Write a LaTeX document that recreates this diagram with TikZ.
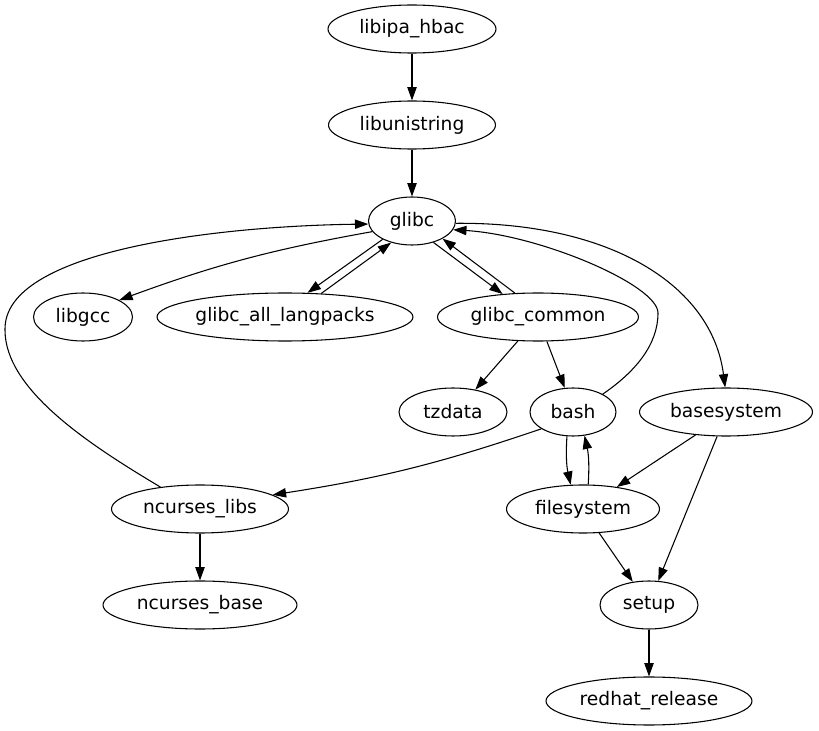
\documentclass[tikz,border=0pt]{standalone}
\usepackage{fontspec}
\setmainfont{DejaVu Sans}
\usetikzlibrary{shapes.geometric,arrows.meta}
\begin{document}
\begin{tikzpicture}[x=0.75pt,y=-0.75pt,
  gnode/.style={draw, ellipse, inner sep=0pt, minimum height=36pt, line width=0.8pt,
    font=\fontsize{14pt}{17pt}\selectfont},
  edge/.style={line width=0.8pt, -{Triangle[length=10pt,width=7pt]}}]
\useasboundingbox (0,0) rectangle (819,731);
\node[gnode, minimum width=126pt] (hbac) at (412,29) {\makebox[0pt]{libipa\_hbac}};
\node[gnode, minimum width=125.25pt] (libu) at (412,125) {\makebox[0pt]{libunistring}};
\node[gnode, minimum width=65.25pt] (glibc) at (412,221) {\makebox[0pt]{glibc}};
\node[gnode, minimum width=74.25pt] (libgcc) at (83,317) {\makebox[0pt]{libgcc}};
\node[gnode, minimum width=192pt] (gal) at (285,317) {\makebox[0pt]{glibc\_all\_langpacks}};
\node[gnode, minimum width=150.75pt] (gc) at (538,317) {\makebox[0pt]{glibc\_common}};
\node[gnode, minimum width=81pt] (tz) at (453,412) {\makebox[0pt]{tzdata}};
\node[gnode, minimum width=64.5pt] (bash) at (573,412) {\makebox[0pt]{bash}};
\node[gnode, minimum width=129.75pt] (bs) at (726,412) {\makebox[0pt]{basesystem}};
\node[gnode, minimum width=132.75pt] (ncl) at (200,509) {\makebox[0pt]{ncurses\_libs}};
\node[gnode, minimum width=114.75pt] (fs) at (583,509) {\makebox[0pt]{filesystem}};
\node[gnode, minimum width=145.5pt] (ncb) at (200,605) {\makebox[0pt]{ncurses\_base}};
\node[gnode, minimum width=73.5pt] (setup) at (649,605) {\makebox[0pt]{setup}};
\node[gnode, minimum width=154.5pt] (rr) at (649,701) {\makebox[0pt]{redhat\_release}};
\coordinate (bk) at (658,313);
\coordinate (lk) at (5,330);
\draw[edge] (hbac) -- (libu);
\draw[edge] (libu) -- (glibc);
\draw[edge] (glibc.195) to[bend right=5] (libgcc.25);
\draw[edge] (glibc.212) -- (gal.47);
\draw[edge] (gal.33) -- (glibc.226);
\draw[edge] (glibc.-45) -- (gc.147);
\draw[edge] (gc.134) -- (glibc.-30);
\draw[edge] (glibc.-3) .. controls (610,222) and (712,285) .. (bs.92);
\draw[edge] (bash.31) .. controls (635,372) and (658,345) .. (bk) .. controls (658,285) and (540,235) .. (glibc.-12);
\draw[edge] (gc.230) -- (tz.45);
\draw[edge] (gc.290) -- (bash.109);
\draw[edge] (bash.208) to[bend left=5] (ncl.11);
\draw[edge] (bash.256) to[bend right=8] (fs.117);
\draw[edge] (fs.78) to[bend right=8] (bash.296);
\draw[edge] (bs.217) -- (fs.33);
\draw[edge] (bs.250) -- (setup.69);
\draw[edge] (fs.304) -- (setup.125);
\draw[edge] (setup) -- (rr);
\draw[edge] (ncl.151) .. controls (90,445) and (5,390) .. (lk) .. controls (3,250) and (220,226) .. (glibc.184);
\draw[edge] (ncl) -- (ncb);
\end{tikzpicture}
\end{document}
